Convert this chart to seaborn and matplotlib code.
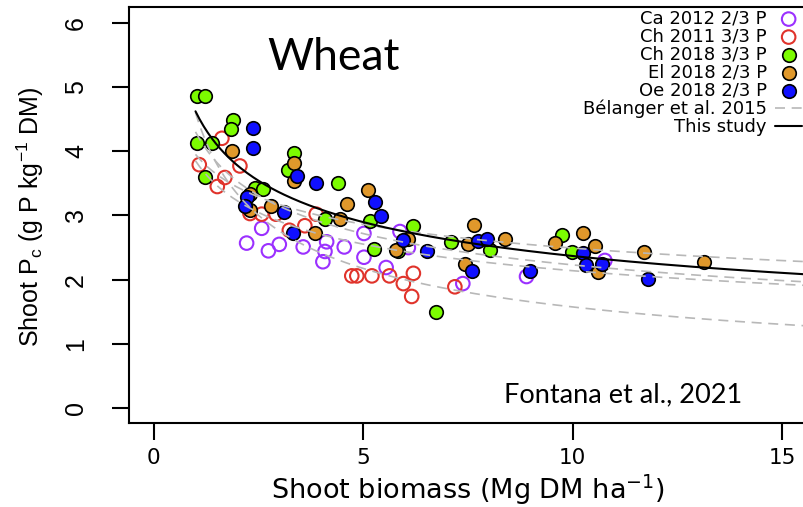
import numpy as np
import pandas as pd
import matplotlib
matplotlib.use("Agg")
import matplotlib.pyplot as plt
import seaborn as sns

# ---------------- data ----------------
ca2012_x = [2.22, 2.58, 2.74, 3.00, 3.57, 4.13, 4.09, 4.04, 4.55, 5.02, 5.02, 5.55, 5.88, 6.08, 7.38, 8.90, 10.77]
ca2012_y = [2.57, 2.80, 2.45, 2.55, 2.51, 2.59, 2.44, 2.28, 2.51, 2.72, 2.35, 2.19, 2.75, 2.50, 1.94, 2.05, 2.30]

ch2011_x = [1.09, 1.63, 2.06, 1.70, 1.52, 2.30, 2.58, 2.92, 3.24, 3.61, 3.88, 4.73, 4.85, 5.21, 5.63, 5.96, 6.20, 6.16, 7.19]
ch2011_y = [3.79, 4.20, 3.77, 3.59, 3.45, 3.03, 3.02, 3.02, 2.77, 2.84, 3.02, 2.06, 2.06, 2.06, 2.06, 1.94, 2.10, 1.74, 1.89]

ch2018_x = [1.04, 1.23, 1.90, 1.85, 1.03, 1.39, 1.23, 2.42, 2.60, 3.21, 3.35, 4.41, 4.09, 5.16, 6.18, 5.26, 5.84, 7.10, 8.03, 6.74, 9.74, 9.98]
ch2018_y = [4.86, 4.86, 4.48, 4.34, 4.12, 4.13, 3.60, 3.42, 3.41, 3.71, 3.97, 3.51, 2.95, 2.92, 2.84, 2.48, 2.44, 2.58, 2.47, 1.50, 2.69, 2.43]

el2018_x = [1.86, 2.30, 2.30, 2.80, 3.35, 3.35, 5.12, 4.61, 4.45, 3.85, 6.08, 5.78, 7.65, 7.51, 8.39, 7.43, 9.58, 10.24, 10.53, 10.61, 11.70, 13.14]
el2018_y = [4.00, 3.33, 3.08, 3.14, 3.82, 3.54, 3.40, 3.18, 2.94, 2.73, 2.64, 2.46, 2.85, 2.56, 2.64, 2.24, 2.57, 2.73, 2.52, 2.12, 2.43, 2.27]

oe2018_x = [2.38, 2.38, 2.22, 2.18, 3.12, 3.33, 3.42, 3.88, 5.28, 5.42, 5.96, 6.53, 7.75, 7.95, 7.59, 8.98, 10.24, 10.31, 10.69, 11.81]
oe2018_y = [4.36, 4.05, 3.29, 3.14, 3.05, 2.73, 3.62, 3.51, 3.21, 2.99, 2.62, 2.45, 2.61, 2.63, 2.13, 2.14, 2.41, 2.23, 2.24, 2.01]

group_labels = ["Ca 2012 2/3 P", "Ch 2011 3/3 P", "Ch 2018 3/3 P", "El 2018 2/3 P", "Oe 2018 2/3 P"]

# dilution curves Pc = a * W^-b (coefficients)
belanger_a = [3.95, 4.30, 3.85, 4.60]
belanger_b = [0.20, 0.285, 0.255, 0.465]
study_a = 4.62
study_b = 0.29
curve_start = 1.0
curve_end = 15.7

xticks = [0, 5, 10, 15]
yticks = [0, 1, 2, 3, 4, 5, 6]

# ---------------- styling ----------------
sns.set_style("ticks")
plt.rcParams['font.family'] = ['DejaVu Sans']
plt.rcParams['text.color'] = 'black'
plt.rcParams['xtick.color'] = 'black'
plt.rcParams['ytick.color'] = 'black'
plt.rcParams['axes.labelcolor'] = 'black'

fig = plt.figure(figsize=(8.04, 5.07), dpi=100)
W, H = 804, 507
left_px, right_px, top_px, bottom_px = 129, 804, 7, 423.3
ax = fig.add_axes([left_px / W, 1 - bottom_px / H, (right_px - left_px) / W, (bottom_px - top_px) / H])

groups = [
    (ca2012_x, ca2012_y, dict(facecolor="none", edgecolor="#9B30FF", linewidth=1.5)),
    (ch2011_x, ch2011_y, dict(facecolor="none", edgecolor="#E0332B", linewidth=1.5)),
    (ch2018_x, ch2018_y, dict(color="#7CFC00", edgecolor="black", linewidth=1.2)),
    (el2018_x, el2018_y, dict(color="#E0982B", edgecolor="black", linewidth=1.2)),
    (oe2018_x, oe2018_y, dict(color="#1010FF", edgecolor="black", linewidth=1.2)),
]
for (gx, gy, kw), lab in zip(groups, group_labels):
    df = pd.DataFrame({"x": gx, "y": gy})
    sns.scatterplot(data=df, x="x", y="y", ax=ax, s=95, marker="o", label=lab,
                    zorder=2, legend=False, **kw)

xs = np.linspace(curve_start, curve_end, 300)
for i, (a, b) in enumerate(zip(belanger_a, belanger_b)):
    cdf = pd.DataFrame({"x": xs, "y": a * xs ** (-b)})
    sns.lineplot(data=cdf, x="x", y="y", ax=ax, color="#B8B8B8", linewidth=1.2,
                 linestyle=(0, (6, 4)), estimator=None, sort=False, zorder=3,
                 label="Bélanger et al. 2015" if i == 0 else "_nolegend_", legend=False)
sdf = pd.DataFrame({"x": xs, "y": study_a * xs ** (-study_b)})
sns.lineplot(data=sdf, x="x", y="y", ax=ax, color="black", linewidth=1.5,
             estimator=None, sort=False, zorder=4, label="This study", legend=False)

x0 = -24.6 / 41.9
ax.set_xlim(x0, x0 + (right_px - left_px) / 41.9)
ax.set_ylim(-15 / 64.3, 6 + 15.6 / 64.3)

for s in ["top", "left", "bottom"]:
    ax.spines[s].set_visible(True)
    ax.spines[s].set_color("black")
    ax.spines[s].set_linewidth(1.5)
ax.spines["right"].set_visible(False)

ax.set_xticks(xticks)
ax.set_yticks(yticks)
ax.tick_params(axis="both", direction="out", length=12.5, width=1.5, color="black",
               labelcolor="black", bottom=True, left=True, top=False, right=False)
ax.tick_params(axis="x", labelsize=15.5, pad=5)
ax.set_yticklabels([str(v) for v in yticks], rotation=90, va="center",
                   fontfamily="Liberation Sans", fontsize=18)
ax.tick_params(axis="y", pad=17)
ax.set_xlabel("")
ax.set_ylabel("")

fig.text(468 / W, 1 - 489.5 / H, "Shoot biomass (Mg DM ha$^{\\mathregular{-1}}$)",
         ha="center", va="center", fontsize=19.5, family="DejaVu Sans")
fig.text(30 / W, 1 - 217 / H,
         "Shoot P$_{\\mathregular{c}}$ (g P kg$^{\\mathregular{-1}}$ DM)",
         ha="center", va="center", rotation=90, fontsize=18, family="Liberation Sans")

fig.text(334 / W, 1 - 57 / H, "Wheat", ha="center", va="center", fontsize=32, family="Lato")
fig.text(623 / W, 1 - 395 / H, "Fontana et al., 2021", ha="center", va="center",
         fontsize=19.5, family="Lato")

handles, labels = ax.get_legend_handles_labels()
leg = ax.legend(handles, labels, loc="upper right", bbox_to_anchor=(1.0, 1 - 8 / H),
                bbox_transform=fig.transFigure, frameon=False, markerfirst=False,
                fontsize=13, labelspacing=0.0, handlelength=1.5, handletextpad=0.45,
                borderpad=0.1, borderaxespad=0, scatterpoints=1)

fig.savefig("out.png", dpi=100)
